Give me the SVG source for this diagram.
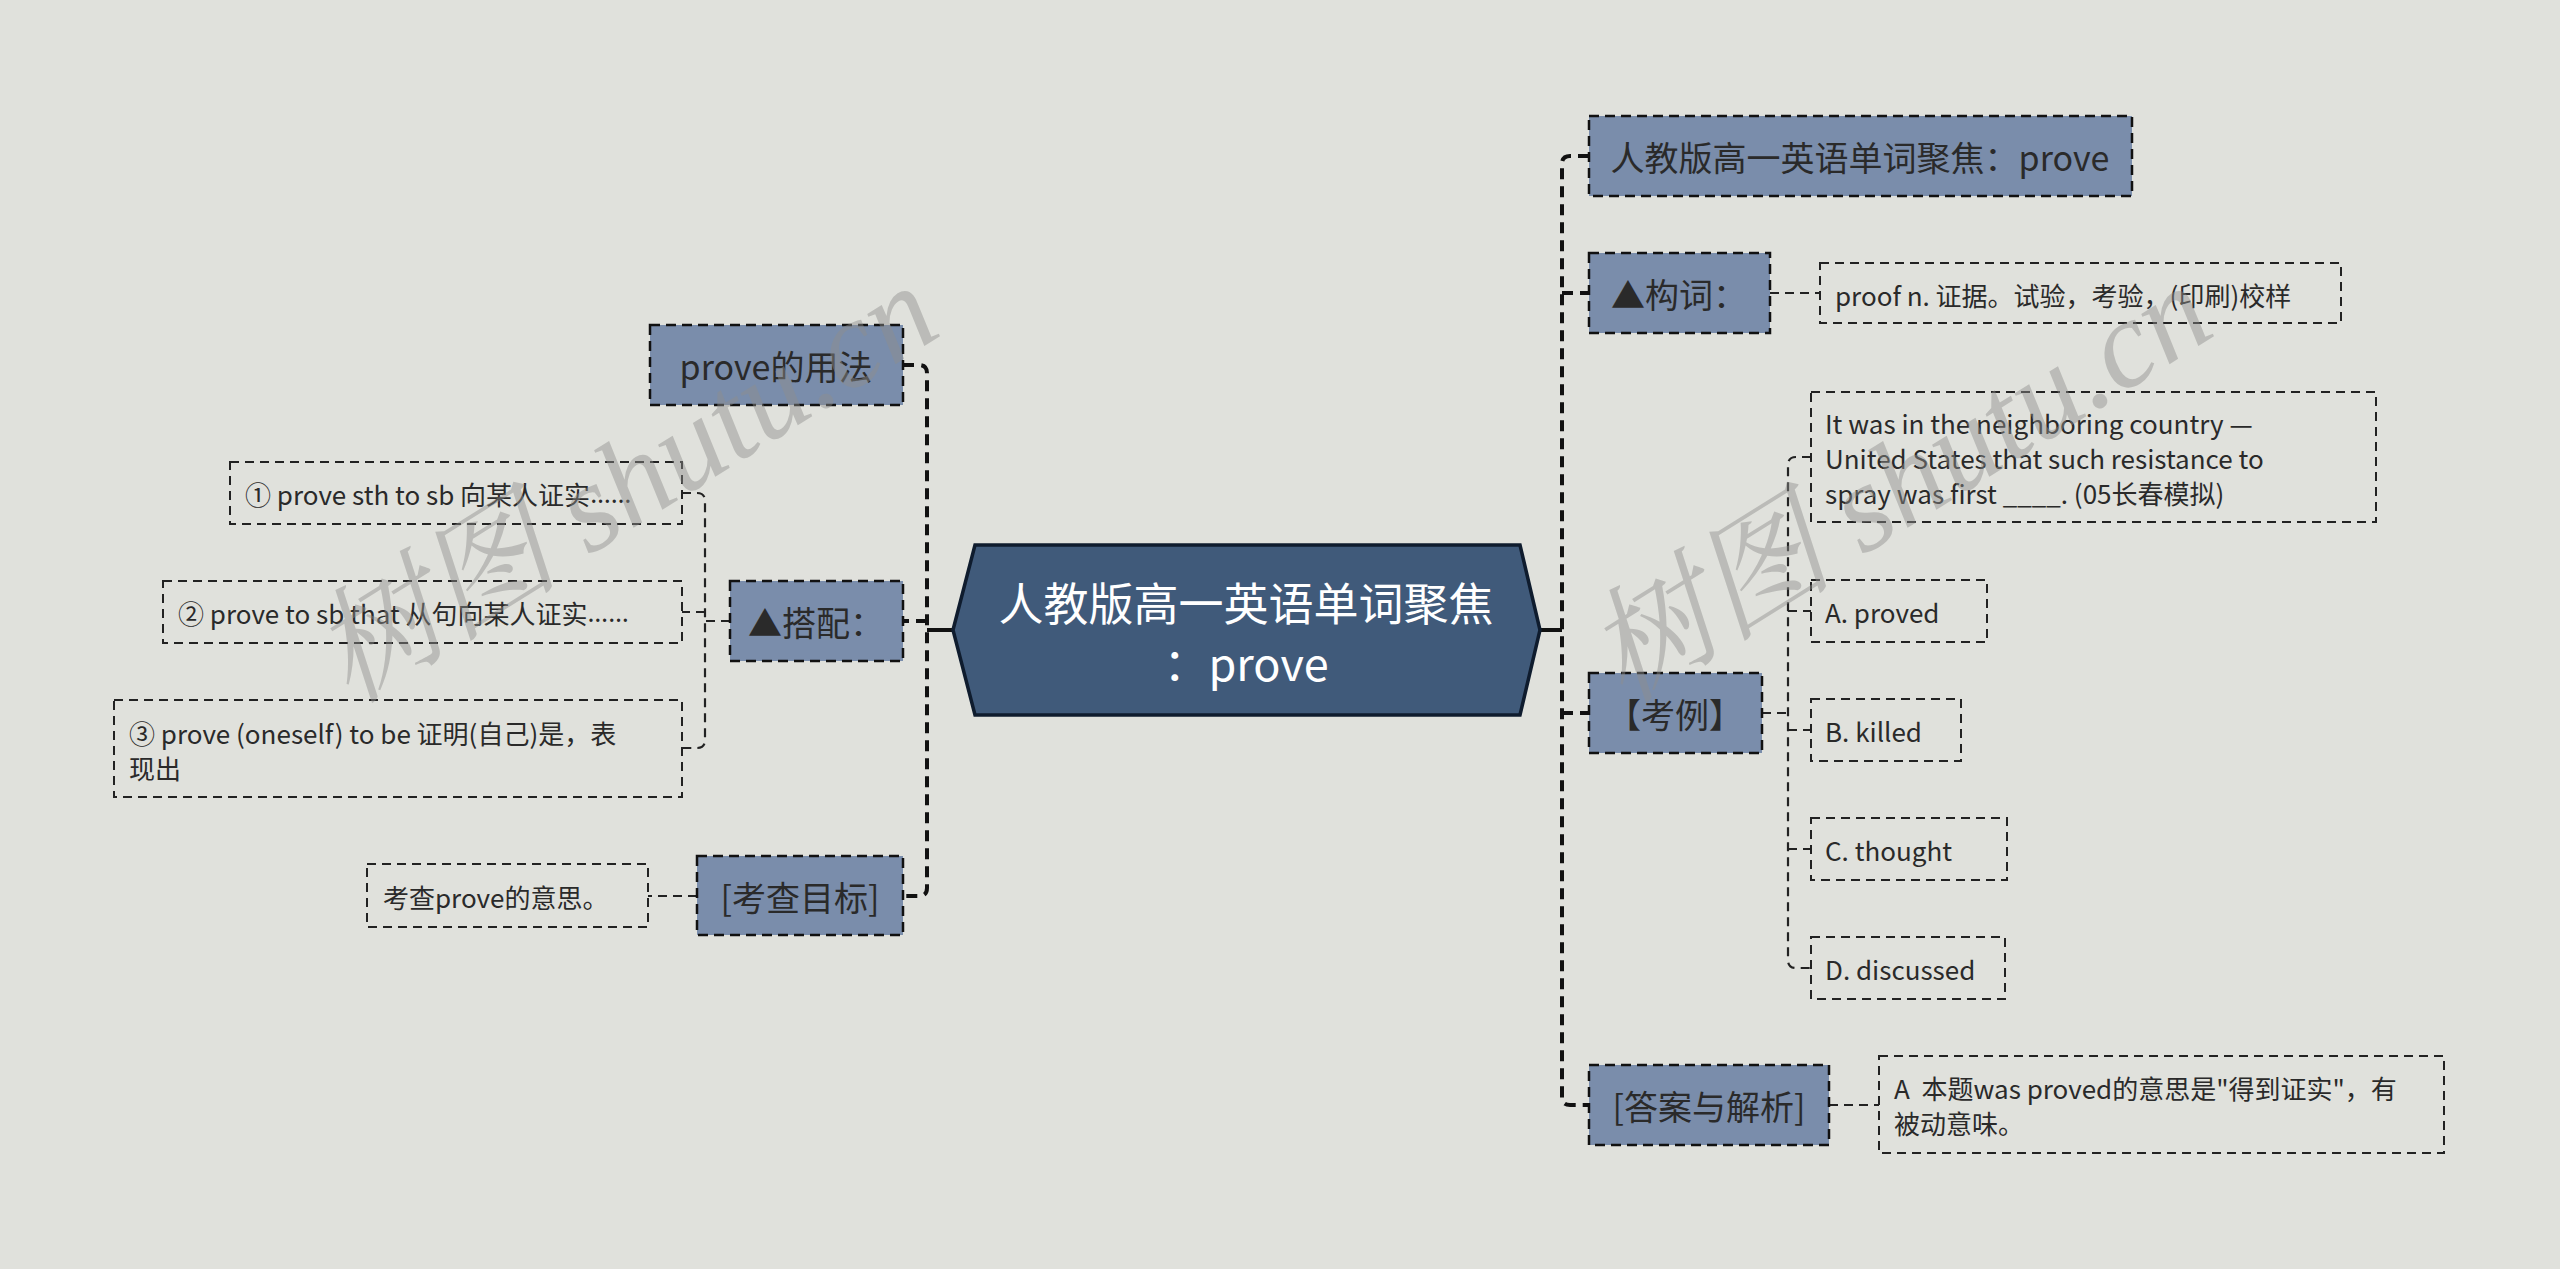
<svg xmlns="http://www.w3.org/2000/svg" width="2560" height="1269" viewBox="0 0 2560 1269">
<style>
text{font-family:"Noto Sans CJK SC","Noto Sans",sans-serif;dominant-baseline:central}
.main{fill:#7a8dab;stroke:#111;stroke-width:2.5;stroke-dasharray:10 6}
.mt{font-size:34px;fill:#2a2a2a;text-anchor:middle}
.leaf{fill:none;stroke:#222;stroke-width:2;stroke-dasharray:9 6}
.lt{font-size:26px;fill:#2a2a2a}
.el{font-family:"Noto Sans",sans-serif}
.trunk{fill:none;stroke:#111;stroke-width:4;stroke-dasharray:11 7}
.thin{fill:none;stroke:#222;stroke-width:2.2;stroke-dasharray:9 6}
.solid{fill:none;stroke:#111;stroke-width:4}
.wm{font-family:"Liberation Serif","Noto Serif CJK SC",serif;font-style:italic;font-size:125px;fill:#8f8f8d;opacity:0.45;dominant-baseline:auto}
</style>
<rect x="0" y="0" width="2560" height="1269" fill="#e0e1dc"/>

<g id="connectors">
  <path class="trunk" d="M903 365 H919 Q927 365 927 373 V888 Q927 896 919 896 H903"/>
  <path class="trunk" d="M927 621 H903"/>
  <path class="solid" d="M927 630 H953"/>
  <path class="thin" d="M730 621 H705"/>
  <path class="thin" d="M682 493 H697 Q705 493 705 501 V740 Q705 748 697 748 H682"/>
  <path class="thin" d="M705 612 H682"/>
  <path class="thin" d="M697 896 H648"/>
  <path class="trunk" d="M1589 156 H1570 Q1562 156 1562 164 V1097 Q1562 1105 1570 1105 H1589"/>
  <path class="trunk" d="M1562 293 H1589"/>
  <path class="trunk" d="M1562 713 H1589"/>
  <path class="solid" d="M1540 630 H1562"/>
  <path class="thin" d="M1770 293 H1820"/>
  <path class="thin" d="M1762 713 H1788"/>
  <path class="thin" d="M1811 457 H1796 Q1788 457 1788 465 V960 Q1788 968 1796 968 H1811"/>
  <path class="thin" d="M1788 611 H1811"/>
  <path class="thin" d="M1788 730 H1811"/>
  <path class="thin" d="M1788 849 H1811"/>
  <path class="thin" d="M1829 1105 H1879"/>
</g>

<g id="center">
  <polygon points="953,630 975,545 1520,545 1540,630 1520,715 975,715" fill="#405a7a" stroke="#0f1c2e" stroke-width="3.5"/>
  <text x="1246" y="601" font-size="45" fill="#fff" text-anchor="middle">人教版高一英语单词聚焦</text>
  <text x="1246" y="661" font-size="45" fill="#fff" text-anchor="middle">：prove</text>
</g>

<g id="n-usage">
  <rect class="main" x="650" y="325" width="253" height="80"/>
  <text class="mt" x="776" y="365">prove的用法</text>
</g>
<g id="n-collocation">
  <rect class="main" x="730" y="581" width="173" height="80"/>
  <text class="mt" x="816" y="621">▲搭配：</text>
</g>
<g id="c1">
  <rect class="leaf" x="230" y="462" width="452" height="62"/>
  <text class="lt" x="245" y="493">① prove sth to sb 向某人证实<tspan class="el">……</tspan></text>
</g>
<g id="c2">
  <rect class="leaf" x="163" y="581" width="519" height="62"/>
  <text class="lt" x="178" y="612">② prove to sb that 从句向某人证实<tspan class="el">……</tspan></text>
</g>
<g id="c3">
  <rect class="leaf" x="114" y="700" width="568" height="97"/>
  <text class="lt" x="129" y="732">③ prove (oneself) to be 证明(自己)是，表</text>
  <text class="lt" x="129" y="767">现出</text>
</g>
<g id="n-target">
  <rect class="main" x="697" y="856" width="206" height="79"/>
  <text class="mt" x="800" y="896">[考查目标]</text>
</g>
<g id="c-target">
  <rect class="leaf" x="367" y="864" width="281" height="63"/>
  <text class="lt" x="383" y="896">考查prove的意思。</text>
</g>

<g id="n-title">
  <rect class="main" x="1589" y="116" width="543" height="80"/>
  <text class="mt" x="1860" y="156">人教版高一英语单词聚焦：prove</text>
</g>
<g id="n-word">
  <rect class="main" x="1589" y="253" width="181" height="80"/>
  <text class="mt" x="1679" y="293">▲构词：</text>
</g>
<g id="c-word">
  <rect class="leaf" x="1820" y="263" width="521" height="60"/>
  <text class="lt" x="1835" y="294">proof n. 证据。试验，考验，(印刷)校样</text>
</g>
<g id="n-example">
  <rect class="main" x="1589" y="673" width="173" height="80"/>
  <text class="mt" x="1675" y="713">【考例】</text>
</g>
<g id="c-q">
  <rect class="leaf" x="1811" y="392" width="565" height="130"/>
  <text class="lt" x="1825" y="422">It was in the neighboring country —</text>
  <text class="lt" x="1825" y="457">United States that such resistance to</text>
  <text class="lt" x="1825" y="492">spray was first ____. (05长春模拟)</text>
</g>
<g id="c-a">
  <rect class="leaf" x="1811" y="580" width="176" height="62"/>
  <text class="lt" x="1825" y="611">A. proved</text>
</g>
<g id="c-b">
  <rect class="leaf" x="1811" y="699" width="150" height="62"/>
  <text class="lt" x="1825" y="730">B. killed</text>
</g>
<g id="c-c">
  <rect class="leaf" x="1811" y="818" width="196" height="62"/>
  <text class="lt" x="1825" y="849">C. thought</text>
</g>
<g id="c-d">
  <rect class="leaf" x="1811" y="937" width="194" height="62"/>
  <text class="lt" x="1825" y="968">D. discussed</text>
</g>
<g id="n-answer">
  <rect class="main" x="1589" y="1065" width="240" height="80"/>
  <text class="mt" x="1709" y="1105">[答案与解析]</text>
</g>
<g id="c-answer">
  <rect class="leaf" x="1879" y="1056" width="565" height="97"/>
  <text class="lt" x="1894" y="1087" xml:space="preserve">A  本题was proved的意思是"得到证实"，有</text>
  <text class="lt" x="1894" y="1122">被动意味。</text>
</g>

<text class="wm" x="350" y="705" transform="rotate(-32 350 705)">树图 shutu.cn</text>
<text class="wm" x="1624" y="705" transform="rotate(-32 1624 705)">树图 shutu.cn</text>
</svg>
